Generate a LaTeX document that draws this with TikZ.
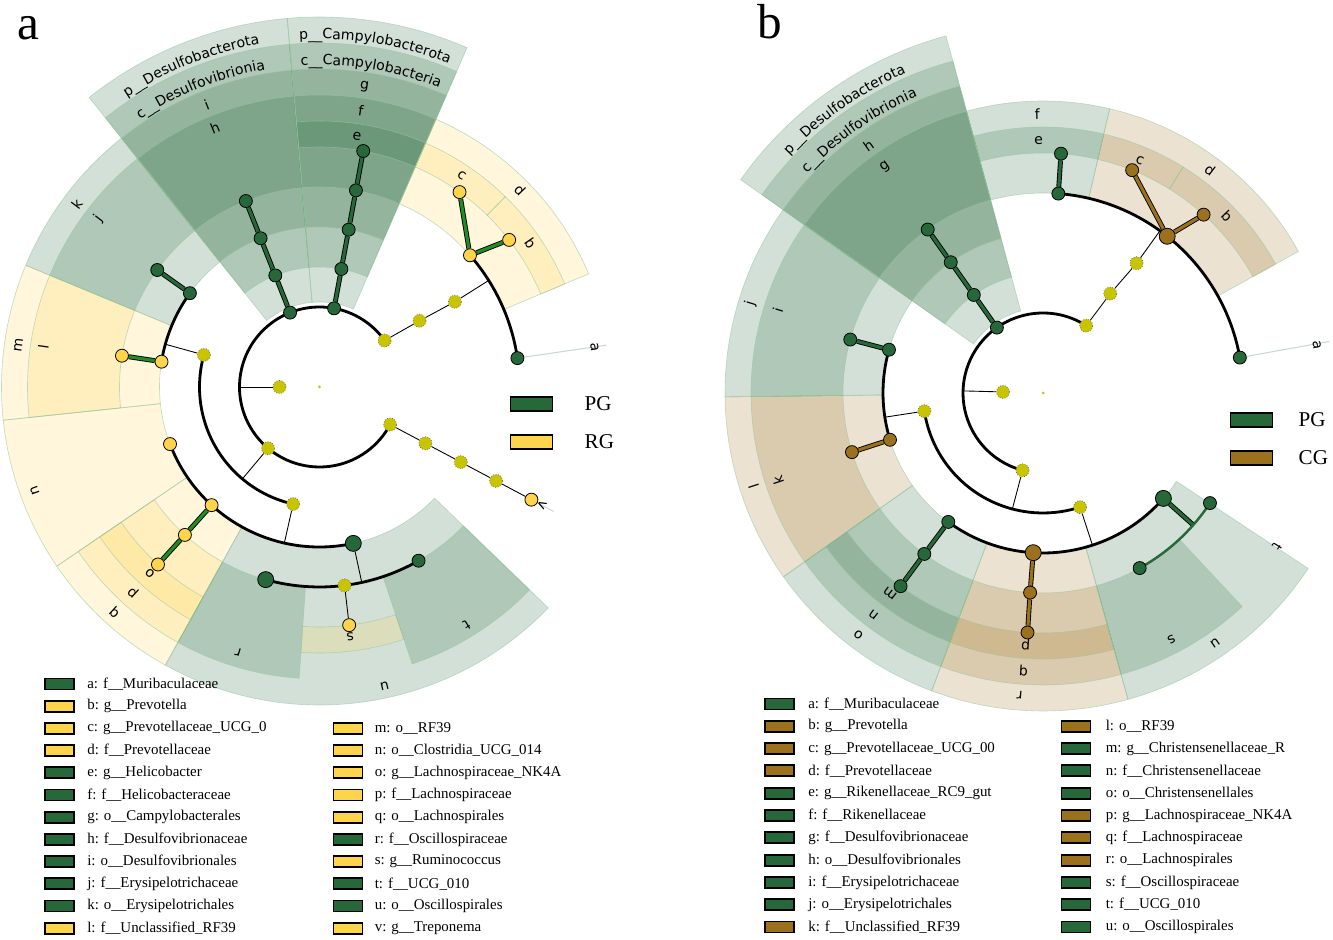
\documentclass[tikz,border=0pt]{standalone}
\usepackage{fontspec}
\setmainfont{Liberation Serif}
\setsansfont{DejaVu Sans}
\usetikzlibrary{positioning,decorations.text}

\definecolor{pgreen}{RGB}{38,104,58}
\definecolor{ryellow}{RGB}{255,212,77}
\definecolor{cbrown}{RGB}{155,113,30}
\definecolor{nsolive}{RGB}{200,196,0}
\definecolor{linkgreen}{RGB}{34,139,34}
\definecolor{edgegreen}{RGB}{150,200,160}

\pgfdeclarelayer{paper}
\pgfdeclarelayer{wedges}
\pgfdeclarelayer{links}
\pgfsetlayers{paper,wedges,links,main}

\newcommand{\labfont}{\sffamily\fontsize{8}{9}\selectfont}
% annular sector: start angle, end angle, inner r, outer r, colour
\newcommand{\sector}[5]{\path[sectorfill=#5] (#1:#3) arc[start angle=#1, end angle=#2, radius=#3] -- (#2:#4) arc[start angle=#2, end angle=#1, radius=#4] -- cycle;}
% letter label: name, angle, radius, text
\newcommand{\cladetag}[4]{\node[cladelabel, rotate={#2-90}] (#1) at (#2:#3) {#4};}
% curved label: centre angle, radius, text
\newcommand{\arclabel}[3]{\path[decorate, decoration={text along path, text={|\labfont|#3}, text align=center}] ({#1+25}:#2) arc[start angle={#1+25}, end angle={#1-25}, radius=#2];}

\tikzset{
  sectorfill/.style={fill=#1, fill opacity=.2, draw=edgegreen, draw opacity=.6, line width=.35pt},
  taxon/.style={circle, draw=black, line width=.45pt, inner sep=0pt, minimum size=.26cm, fill=#1},
  bigtaxon/.style={taxon=#1, minimum size=.32cm},
  nstaxon/.style={circle, draw=black!60, densely dotted, line width=.4pt, inner sep=0pt, minimum size=.26cm, fill=nsolive},
  rootdot/.style={circle, fill=nsolive, inner sep=0pt, minimum size=.06cm},
  treearc/.style={line width=1.6pt},
  thinlink/.style={line width=.5pt},
  clink/.style={line width=.5pt, double=#1, double distance=1.8pt},
  softarc/.style={line width=1.4pt, draw=#1},
  tipline/.style={draw=pgreen!25, line width=.6pt},
  cladelabel/.style={font=\labfont, inner sep=0pt},
  legbox/.style={draw=black, line width=1.1pt, minimum width=.58cm, minimum height=.22cm, inner sep=0pt, fill=#1},
  legtext/.style={font=\fontsize{8.5}{10}\selectfont, inner sep=0pt, anchor=west},
  keybox/.style={draw=black, line width=1pt, minimum width=.84cm, minimum height=.28cm, inner sep=0pt, fill=#1},
  keytext/.style={font=\fontsize{12}{14}\selectfont, inner sep=0pt},
  panel/.style={font=\fontsize{28}{30}\selectfont, inner sep=0pt},
}

\begin{document}
\begin{tikzpicture}[x=0.02cm, y=0.02cm]
\begin{pgfonlayer}{paper}
  \fill[white] (0,0) rectangle (1333,940);
\end{pgfonlayer}
\useasboundingbox (0,0) rectangle (1333,940);

\node[panel] (panela) at (28,912) {a};
\node[panel] (panelb) at (770,918) {b};

%% ---------------- panel a ----------------
\begin{scope}[shift={(319.5,553)}]
  % taxa
  \node[rootdot] (a0) at (0,0) {};
  \node[nstaxon] (aK) at (180:40) {};
  \coordinate (aKJ) at (180:80);
  \node[nstaxon] (aBac) at (35.5:80) {};
  \node[nstaxon] (aBac2) at (33.5:120) {};
  \node[nstaxon] (aBac3) at (32.2:160) {};
  \coordinate (aBacJ) at (32.2:200);
  \node[taxon=pgreen] (aa) at (8.3:200) {};
  \coordinate (aaTip) at (8.3:290);
  \node[taxon=ryellow] (ad) at (41.2:200) {};
  \node[taxon=ryellow] (ab) at (37.8:240) {};
  \node[taxon=ryellow] (ac) at (54.3:240) {};
  \foreach \r [count=\i] in {80,120,160,200,240}
    \node[taxon=pgreen] (aCam\i) at (79.5:\r) {};
  \foreach \r [count=\i] in {80,120,160,200}
    \node[taxon=pgreen] (aDes\i) at (111.6:\r) {};
  \node[nstaxon] (aFir) at (230:80) {};
  \coordinate (aFirJ) at (230:120);
  \node[nstaxon] (aBaci) at (164.5:120) {};
  \coordinate (aBaciJ) at (164.5:160);
  \node[nstaxon] (aClos) at (257.3:120) {};
  \coordinate (aClosJ) at (257.3:160);
  \node[taxon=pgreen] (ak) at (144.1:160) {};
  \node[taxon=pgreen] (aj) at (144.2:200) {};
  \node[taxon=ryellow] (am) at (170.9:160) {};
  \node[taxon=ryellow] (al) at (171:200) {};
  \node[taxon=ryellow] (an) at (200.9:160) {};
  \node[taxon=ryellow] (aq) at (227.6:160) {};
  \node[taxon=ryellow] (ap) at (227.7:200) {};
  \node[taxon=ryellow] (ao) at (227.7:240) {};
  \node[bigtaxon=pgreen] (au) at (282.2:160) {};
  \coordinate (auJ) at (282.2:200);
  \node[bigtaxon=pgreen] (ar) at (254.4:200) {};
  \node[nstaxon] (aRum) at (277.2:200) {};
  \node[taxon=pgreen] (at) at (299.7:200) {};
  \node[taxon=ryellow] (as) at (277.1:240) {};
  \foreach \r [count=\i] in {80,120,160,200}
    \node[nstaxon] (aSpi\i) at (332:\r) {};
  \node[taxon=ryellow] (av) at (332:240) {};
  \coordinate (avTip) at (332:265);

  % shaded clades
  \begin{pgfonlayer}{wedges}
    \foreach \ri/\ro in {85/370,120/344,160/318,200/292,240/266}
      {\sector{66.5}{95}{\ri}{\ro}{pgreen}}
    \foreach \ri/\ro in {85/370,120/344,160/318,200/292}
      {\sector{95}{128.5}{\ri}{\ro}{pgreen}}
    \foreach \ri/\ro in {160/318,200/292}
      {\sector{128.5}{157.5}{\ri}{\ro}{pgreen}}
    \foreach \ri/\ro in {160/318,200/292}
      {\sector{157.5}{186}{\ri}{\ro}{ryellow}}
    \sector{186}{214.3}{160}{318}{ryellow}
    \foreach \ri/\ro in {160/318,200/292,240/266}
      {\sector{214.3}{241}{\ri}{\ro}{ryellow}}
    \sector{241}{316}{160}{318}{pgreen}
    \sector{241}{266}{200}{292}{pgreen}
    \sector{266}{288.5}{240}{266}{ryellow}
    \sector{288.5}{316}{200}{292}{pgreen}
    \sector{22.8}{66.5}{200}{292}{ryellow}
    \sector{45.7}{66.5}{240}{266}{ryellow}
    \sector{22.8}{45.7}{240}{266}{ryellow}
  \end{pgfonlayer}

  % branches
  \begin{pgfonlayer}{links}
    \draw[thinlink] (aK) -- (aKJ);
    \draw[treearc] (aBac.center) arc[start angle=35.5, end angle=332, radius=80];
    \draw[thinlink] (aBac) -- (aBac2) -- (aBac3) -- (aBacJ);
    \draw[treearc] (aa.center) arc[start angle=8.3, end angle=41.2, radius=200];
    \draw[clink=linkgreen] (ad) -- (ab);
    \draw[clink=linkgreen] (ad) -- (ac);
    \draw[tipline] (aa) -- (aaTip);
    \draw[clink=pgreen] (aCam1) -- (aCam2) -- (aCam3) -- (aCam4) -- (aCam5);
    \draw[clink=pgreen] (aDes1) -- (aDes2) -- (aDes3) -- (aDes4);
    \draw[thinlink] (aFir) -- (aFirJ);
    \draw[treearc] (aBaci.center) arc[start angle=164.5, end angle=257.3, radius=120];
    \draw[thinlink] (aBaci) -- (aBaciJ);
    \draw[treearc] (ak.center) arc[start angle=144.1, end angle=170.9, radius=160];
    \draw[clink=pgreen] (ak) -- (aj);
    \draw[clink=linkgreen] (am) -- (al);
    \draw[thinlink] (aClos) -- (aClosJ);
    \draw[treearc] (an.center) arc[start angle=200.9, end angle=282.2, radius=160];
    \draw[clink=linkgreen] (aq) -- (ap) -- (ao);
    \draw[thinlink] (au) -- (auJ);
    \draw[treearc] (ar.center) arc[start angle=254.4, end angle=299.7, radius=200];
    \draw[thinlink] (aRum) -- (as);
    \draw[thinlink] (aSpi1) -- (aSpi2) -- (aSpi3) -- (aSpi4) -- (av);
    \draw[tipline] (av) -- (avTip);
  \end{pgfonlayer}

  % clade labels
  \arclabel{80.75}{348}{p{\_}{\_}Campylobacterota}
  \arclabel{80.75}{322}{c{\_}{\_}Campylobacteria}
  \arclabel{111.75}{348}{p{\_}{\_}Desulfobacterota}
  \arclabel{111.75}{322}{c{\_}{\_}Desulfovibrionia}
  \cladetag{ta-g}{81.5}{304}{g}
  \cladetag{ta-f}{81.5}{279}{f}
  \cladetag{ta-e}{81.5}{253}{e}
  \cladetag{ta-i}{111.8}{304}{i}
  \cladetag{ta-h}{112}{279}{h}
  \cladetag{ta-k}{143}{304}{k}
  \cladetag{ta-j}{142.7}{278}{j}
  \cladetag{ta-m}{172}{304}{m}
  \cladetag{ta-l}{171.8}{279}{l}
  \cladetag{ta-n}{200}{303}{n}
  \cladetag{ta-q}{227.7}{304}{q}
  \cladetag{ta-p}{227.7}{277}{p}
  \cladetag{ta-o}{227.7}{252}{o}
  \cladetag{ta-u}{282.3}{306}{u}
  \cladetag{ta-r}{253}{278}{r}
  \cladetag{ta-s}{277}{252}{s}
  \cladetag{ta-t}{301.7}{280}{t}
  \cladetag{ta-d}{44.5}{281}{d}
  \cladetag{ta-b}{34.2}{255}{b}
  \cladetag{ta-c}{56.1}{255}{c}
  \cladetag{ta-a}{8.3}{278}{a}
  \cladetag{ta-v}{332}{252}{v}
\end{scope}

% group key a
\node[keybox=pgreen] (keyPGa) at (531.5,536) {};
\node[keytext, right=.62cm of keyPGa] (keyPGat) {PG};
\node[keybox=ryellow] (keyRGa) at (531.5,498) {};
\node[keytext, right=.62cm of keyRGa] (keyRGat) {RG};

% taxon key a
\foreach \txt/\col [count=\i from 0] in {
  a: f\_\_Muribaculaceae/pgreen, b: g\_\_Prevotella/ryellow,
  c: g\_\_Prevotellaceae\_UCG\_0/ryellow, d: f\_\_Prevotellaceae/ryellow,
  e: g\_\_Helicobacter/pgreen, f: f\_\_Helicobacteraceae/pgreen,
  g: o\_\_Campylobacterales/pgreen, h: f\_\_Desulfovibrionaceae/pgreen,
  i: o\_\_Desulfovibrionales/pgreen, j: f\_\_Erysipelotrichaceae/pgreen,
  k: o\_\_Erysipelotrichales/pgreen, l: f\_\_Unclassified\_RF39/ryellow}
{
  \node[legbox=\col] (ka\i) at (59.5,{256-22.2*\i}) {};
  \node[legtext, right=.24cm of ka\i] (kat\i) {\txt};
}
\foreach \txt/\col [count=\i from 2] in {
  m: o\_\_RF39/ryellow, n: o\_\_Clostridia\_UCG\_014/ryellow,
  o: g\_\_Lachnospiraceae\_NK4A/ryellow, p: f\_\_Lachnospiraceae/ryellow,
  q: o\_\_Lachnospirales/ryellow, r: f\_\_Oscillospiraceae/pgreen,
  s: g\_\_Ruminococcus/ryellow, t: f\_\_UCG\_010/pgreen,
  u: o\_\_Oscillospirales/pgreen, v: g\_\_Treponema/ryellow}
{
  \node[legbox=\col] (kb\i) at (348,{256-22.2*\i}) {};
  \node[legtext, right=.22cm of kb\i] (kbt\i) {\txt};
}

%% ---------------- panel b ----------------
\begin{scope}[shift={(1043,547)}]
  % taxa
  \node[rootdot] (b0) at (0,0) {};
  \node[nstaxon] (bK) at (178.5:40) {};
  \coordinate (bKJ) at (178.5:80);
  \node[nstaxon] (bBac) at (57.3:80) {};
  \node[nstaxon] (bBac2) at (55.9:120) {};
  \node[nstaxon] (bBac3) at (54.2:160) {};
  \coordinate (bBacJ) at (54.2:200);
  \node[taxon=pgreen] (ba) at (10.2:200) {};
  \coordinate (baTip) at (10.2:291);
  \node[bigtaxon=cbrown] (bd) at (51.6:200) {};
  \node[taxon=pgreen] (bf) at (85.6:200) {};
  \node[taxon=pgreen] (be) at (85.7:240) {};
  \node[taxon=cbrown] (bc) at (68.2:240) {};
  \node[taxon=cbrown] (bb) at (48:240) {};
  \foreach \r [count=\i] in {80,120,160,200}
    \node[taxon=pgreen] (bDes\i) at (125.2:\r) {};
  \node[nstaxon] (bFir) at (255.2:80) {};
  \coordinate (bFirJ) at (255.2:120);
  \node[nstaxon] (bBaci) at (188.7:120) {};
  \coordinate (bBaciJ) at (188.7:160);
  \node[nstaxon] (bClos) at (288:120) {};
  \coordinate (bClosJ) at (288:160);
  \node[taxon=pgreen] (bj) at (164.3:160) {};
  \node[taxon=pgreen] (bi) at (164.5:200) {};
  \node[taxon=cbrown] (bl) at (197:160) {};
  \node[taxon=cbrown] (bk) at (197.2:200) {};
  \node[taxon=pgreen] (bo) at (233.7:160) {};
  \node[taxon=pgreen] (bn) at (233.6:200) {};
  \node[taxon=pgreen] (bm) at (233.6:240) {};
  \node[bigtaxon=cbrown] (br) at (266.5:160) {};
  \node[taxon=cbrown] (bq) at (266.3:200) {};
  \node[taxon=cbrown] (bp) at (266.3:240) {};
  \node[bigtaxon=pgreen] (bu) at (318.8:160) {};
  \coordinate (buJ) at (318.7:200);
  \node[taxon=pgreen] (bs) at (298.9:200) {};
  \node[taxon=pgreen] (bt) at (326.6:200) {};

  % shaded clades
  \begin{pgfonlayer}{wedges}
    \foreach \ri/\ro in {85/370,120/344,160/318,200/292}
      {\sector{105.2}{144.8}{\ri}{\ro}{pgreen}}
    \foreach \ri/\ro in {200/292,240/266}
      {\sector{76.8}{105.2}{\ri}{\ro}{pgreen}}
    \sector{29}{76.8}{200}{292}{cbrown}
    \sector{58.2}{76.8}{240}{266}{cbrown}
    \sector{29}{58.2}{240}{266}{cbrown}
    \foreach \ri/\ro in {160/318,200/292}
      {\sector{144.8}{180.7}{\ri}{\ro}{pgreen}}
    \foreach \ri/\ro in {160/318,200/292}
      {\sector{180.7}{215.3}{\ri}{\ro}{cbrown}}
    \foreach \ri/\ro in {160/318,200/292,240/266}
      {\sector{215.3}{249.5}{\ri}{\ro}{pgreen}}
    \foreach \ri/\ro in {160/318,200/292,240/266}
      {\sector{249.5}{285.5}{\ri}{\ro}{cbrown}}
    \sector{285.5}{326.5}{160}{318}{pgreen}
    \sector{285.5}{313}{200}{292}{pgreen}
  \end{pgfonlayer}

  % branches
  \begin{pgfonlayer}{links}
    \draw[thinlink] (bK) -- (bKJ);
    \draw[treearc] (bBac.center) arc[start angle=57.3, end angle=255.2, radius=80];
    \draw[thinlink] (bBac) -- (bBac2) -- (bBac3) -- (bBacJ);
    \draw[treearc] (ba.center) arc[start angle=10.2, end angle=85.6, radius=200];
    \draw[clink=pgreen] (bf) -- (be);
    \draw[clink=cbrown] (bd) -- (bc);
    \draw[clink=cbrown] (bd) -- (bb);
    \draw[tipline] (ba) -- (baTip);
    \draw[clink=pgreen] (bDes1) -- (bDes2) -- (bDes3) -- (bDes4);
    \draw[thinlink] (bFir) -- (bFirJ);
    \draw[treearc] (bBaci.center) arc[start angle=188.7, end angle=288, radius=120];
    \draw[thinlink] (bBaci) -- (bBaciJ);
    \draw[treearc] (bj.center) arc[start angle=164.3, end angle=197, radius=160];
    \draw[clink=pgreen] (bj) -- (bi);
    \draw[clink=cbrown] (bl) -- (bk);
    \draw[thinlink] (bClos) -- (bClosJ);
    \draw[treearc] (bo.center) arc[start angle=233.7, end angle=318.8, radius=160];
    \draw[clink=pgreen] (bo) -- (bn) -- (bm);
    \draw[clink=cbrown] (br) -- (bq) -- (bp);
    \draw[clink=pgreen] (bu) -- (buJ);
    \draw[softarc=pgreen] (bs.center) arc[start angle=298.9, end angle=326.6, radius=200];
  \end{pgfonlayer}

  % clade labels
  \arclabel{125}{348}{p{\_}{\_}Desulfobacterota}
  \arclabel{125}{322}{c{\_}{\_}Desulfovibrionia}
  \cladetag{tb-h}{125.2}{303}{h}
  \cladetag{tb-g}{124.9}{276}{g}
  \cladetag{tb-f}{91.2}{279}{f}
  \cladetag{tb-e}{91}{252}{e}
  \cladetag{tb-d}{53.2}{279}{d}
  \cladetag{tb-c}{67.4}{252}{c}
  \cladetag{tb-b}{43.8}{255}{b}
  \cladetag{tb-a}{10}{278}{a}
  \cladetag{tb-j}{163}{306}{j}
  \cladetag{tb-i}{162.6}{278}{i}
  \cladetag{tb-l}{197.9}{304}{l}
  \cladetag{tb-k}{198.2}{279}{k}
  \cladetag{tb-o}{232.6}{304}{o}
  \cladetag{tb-n}{232.6}{279}{n}
  \cladetag{tb-m}{232.6}{252}{m}
  \cladetag{tb-r}{265.6}{303}{r}
  \cladetag{tb-q}{266}{278}{q}
  \cladetag{tb-p}{266.1}{252}{p}
  \cladetag{tb-u}{304.5}{304}{u}
  \cladetag{tb-s}{297.5}{278}{s}
  \cladetag{tb-t}{326.7}{280}{t}
\end{scope}

% group key b
\node[keybox=pgreen] (keyPGb) at (1251.5,520) {};
\node[keytext, right=.5cm of keyPGb] (keyPGbt) {PG};
\node[keybox=cbrown] (keyCGb) at (1251.5,482) {};
\node[keytext, right=.5cm of keyCGb] (keyCGbt) {CG};

% taxon key b
\foreach \txt/\col [count=\i from 0] in {
  a: f\_\_Muribaculaceae/pgreen, b: g\_\_Prevotella/cbrown,
  c: g\_\_Prevotellaceae\_UCG\_00/cbrown, d: f\_\_Prevotellaceae/cbrown,
  e: g\_\_Rikenellaceae\_RC9\_gut/pgreen, f: f\_\_Rikenellaceae/pgreen,
  g: f\_\_Desulfovibrionaceae/pgreen, h: o\_\_Desulfovibrionales/pgreen,
  i: f\_\_Erysipelotrichaceae/pgreen, j: o\_\_Erysipelotrichales/pgreen,
  k: f\_\_Unclassified\_RF39/cbrown}
{
  \node[legbox=\col] (kc\i) at (779.5,{236-22.3*\i}) {};
  \node[legtext, right=.26cm of kc\i] (kct\i) {\txt};
}
\foreach \txt/\col [count=\i from 1] in {
  l: o\_\_RF39/cbrown, m: g\_\_Christensenellaceae\_R/pgreen,
  n: f\_\_Christensenellaceae/pgreen, o: o\_\_Christensenellales/pgreen,
  p: g\_\_Lachnospiraceae\_NK4A/cbrown, q: f\_\_Lachnospiraceae/cbrown,
  r: o\_\_Lachnospirales/cbrown, s: f\_\_Oscillospiraceae/pgreen,
  t: f\_\_UCG\_010/pgreen, u: o\_\_Oscillospirales/pgreen}
{
  \node[legbox=\col] (kd\i) at (1076,{236-22.3*\i}) {};
  \node[legtext, right=.28cm of kd\i] (kdt\i) {\txt};
}
\end{tikzpicture}
\end{document}
